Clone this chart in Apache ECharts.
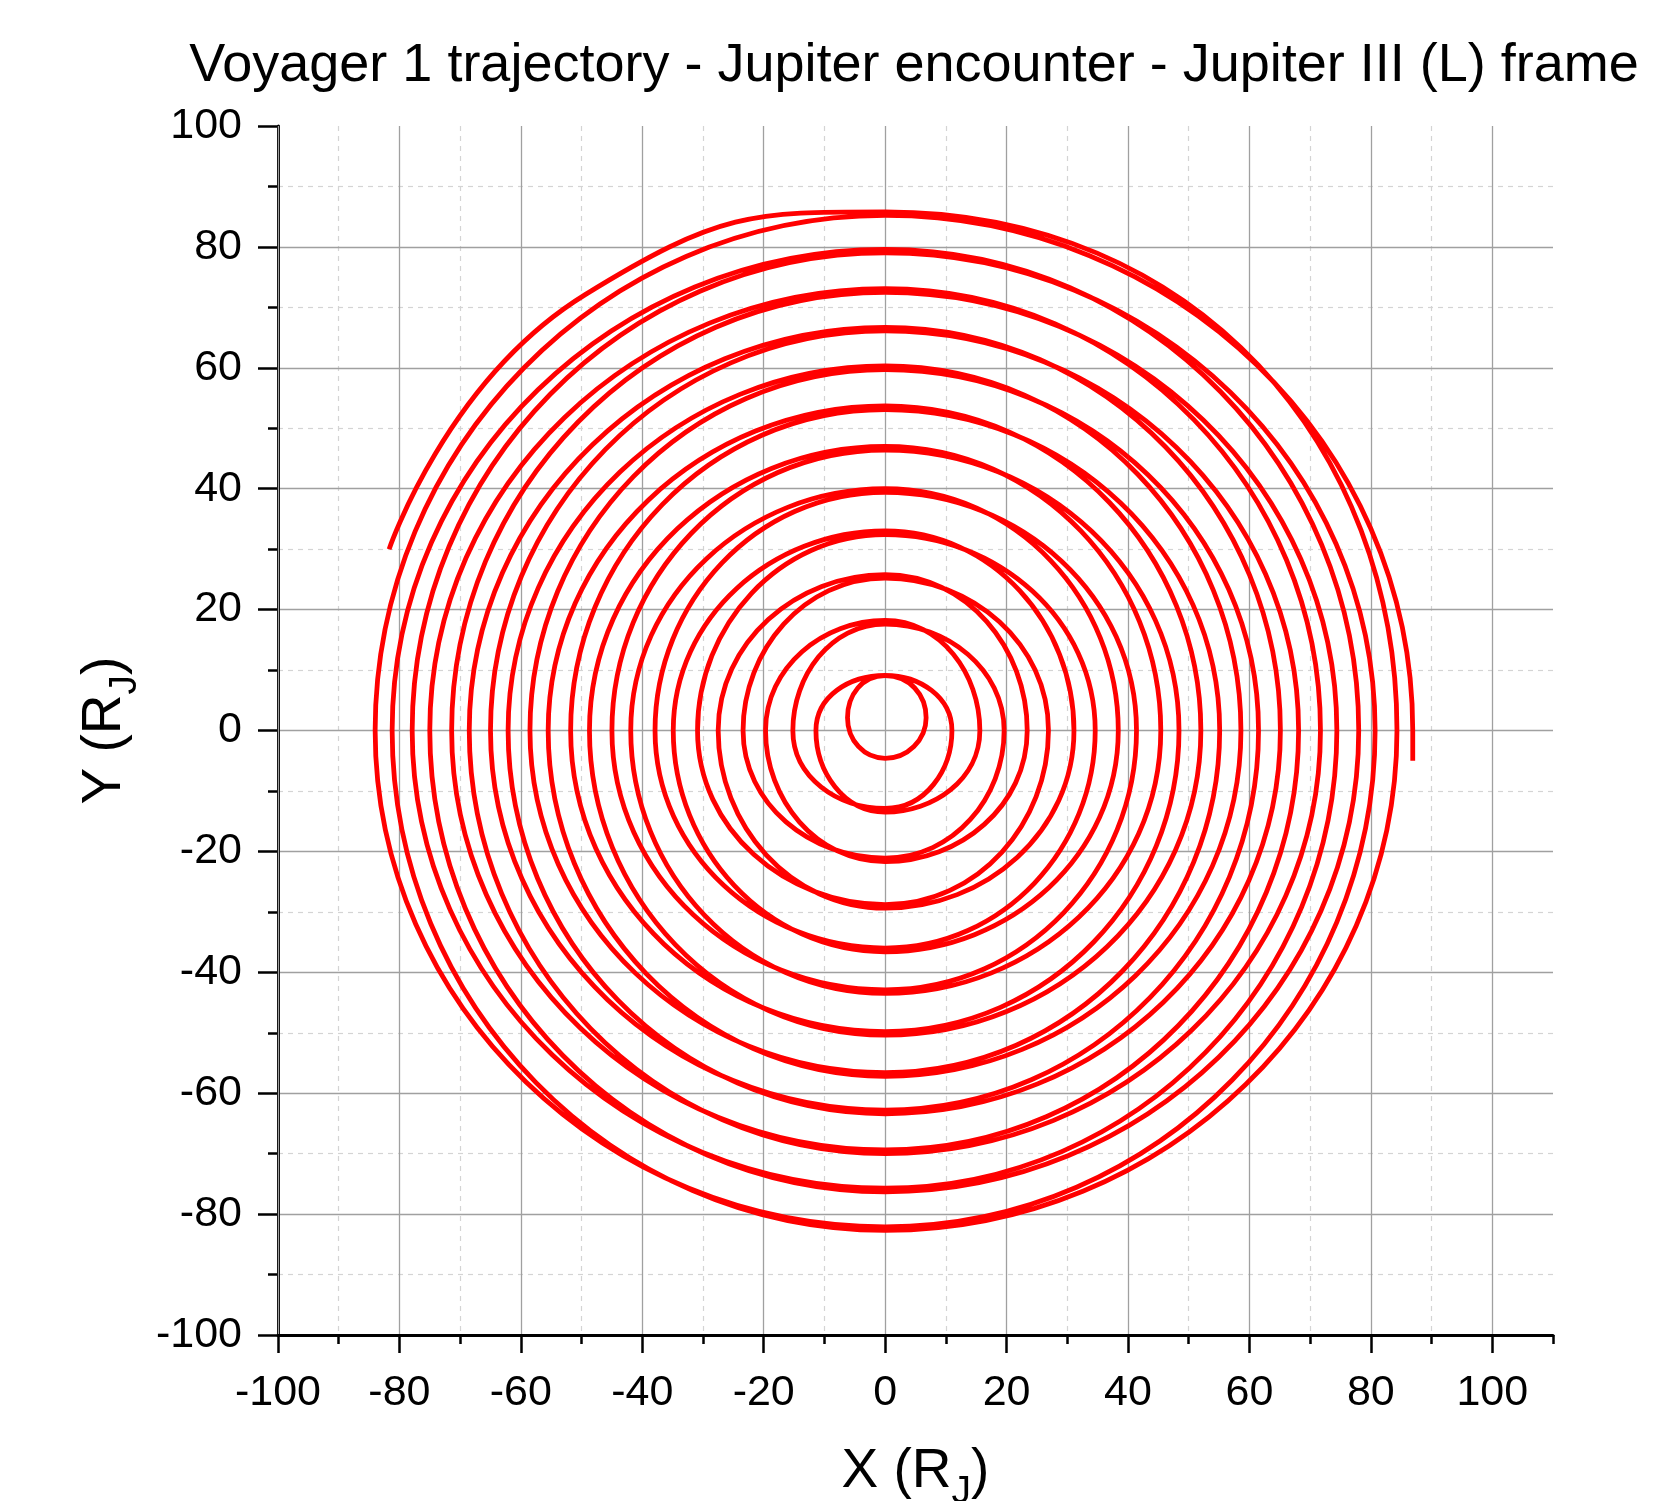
<!DOCTYPE html>
<html>
<head>
<meta charset="utf-8">
<title>Voyager 1 trajectory - Jupiter encounter</title>
<script src="https://cdn.jsdelivr.net/npm/echarts@6/dist/echarts.min.js"></script>
<style>
  html, body { margin: 0; padding: 0; background: #fff; }
  #main { width: 1669px; height: 1501px; }
</style>
</head>
<body>
<div id="main"></div>
<script>
// Track crossings, in Jupiter radii.
// Inbound leg spirals in clockwise, outbound leg spirals out clockwise;
// both legs nearly overlap at top and bottom, and alternate left and right.
var startPoint = [-81.7, 30.0];
var firstArc = [[-49.4, 72.1]];
var inTopY = [85.8, 79.6, 73.1, 66.7, 60.3, 53.7, 47.0, 40.0, 33.0, 25.8, 18.2];
var outTopY = [85.2, 79.0, 72.5, 66.1, 59.7, 53.1, 46.4, 39.4, 32.4, 25.2, 17.6];
var inBottomY = [-82.7, -76.3, -70.0, -63.4, -57.2, -50.4, -43.5, -36.6, -29.4, -21.7, -13.5];
var outBottomY = [-82.1, -75.7, -69.4, -62.8, -56.6, -49.8, -42.9, -36.0, -28.8, -21.1, -12.9];
var inRightX = [84.3, 78.0, 71.7, 65.1, 58.6, 52.0, 45.4, 38.4, 31.1, 23.4, 15.6];
var inLeftX = [-81.2, -75.0, -68.5, -62.1, -55.5, -48.7, -41.9, -34.9, -27.5, -19.7, -11.4];
// closest approach loop: top, right, bottom, left
var loopPoints = [[0, 9.1], [6.75, 2.1], [0, -4.6], [-6.2, 2.1], [0, 9.1]];
// outbound rings listed from the inside out
var outRightX = [11.0, 19.6, 26.9, 34.6, 41.4, 48.4, 55.1, 61.5, 68.1, 74.4, 80.7];
var outLeftX = [-15.2, -23.4, -30.9, -37.9, -45.0, -51.8, -58.5, -65.0, -71.4, -77.9, -84.0];
var endPoints = [[86.9, 0], [86.9, -5.0]];

var xMajorTicks = [-100, -80, -60, -40, -20, 0, 20, 40, 60, 80, 100];
var xMinorTicks = [-90, -70, -50, -30, -10, 10, 30, 50, 70, 90, 110];

// put the crossings in time order
var trajectory = [startPoint].concat(firstArc);
var n = inTopY.length;
for (var i = 0; i < n; i++) {
  trajectory.push([0, inTopY[i]], [inRightX[i], 0], [0, inBottomY[i]], [inLeftX[i], 0]);
}
trajectory = trajectory.concat(loopPoints);
for (var k = 0; k < n; k++) {
  var j = n - 1 - k;
  trajectory.push([outRightX[k], 0], [0, outBottomY[j]], [outLeftX[k], 0], [0, outTopY[j]]);
}
trajectory = trajectory.concat(endPoints);

var font = 'Liberation Sans, Arial, sans-serif';
var black = '#000';
var nameRich = {
  a: { fontSize: 55, lineHeight: 80, fontFamily: font, color: black },
  b: { fontSize: 39, lineHeight: 43, fontFamily: font, color: black, verticalAlign: 'bottom' }
};
var majorGrid = { color: '#a0a0a0', width: 1.3 };
var minorGrid = { color: '#d4d4d4', width: 1.2, type: [5, 5] };

var chart = echarts.init(document.getElementById('main'), null, { renderer: 'canvas' });
var option = {
  animation: false,
  backgroundColor: '#fff',
  title: {
    text: 'Voyager 1 trajectory - Jupiter encounter - Jupiter III (L) frame',
    left: 914,
    top: 39,
    padding: 0,
    textAlign: 'center',
    textStyle: { fontSize: 54, fontWeight: 'normal', color: black, fontFamily: font }
  },
  grid: { left: 278, right: 116, top: 126, bottom: 166, outerBoundsMode: 'none', containLabel: false },
  xAxis: [{
    type: 'value', min: -100, max: 110, interval: 20, position: 'bottom', z: 3,
    name: '{a|X (R}{b|J}{a|)}', nameLocation: 'middle', nameGap: 97,
    nameTextStyle: { rich: nameRich },
    axisLine: { show: true, onZero: false, lineStyle: { color: black, width: 3 } },
    axisTick: { show: true, length: 18, customValues: xMajorTicks, lineStyle: { color: black, width: 2.5 } },
    axisLabel: { customValues: xMajorTicks, fontSize: 43, margin: 37, color: black, fontFamily: font },
    splitLine: { show: true, lineStyle: majorGrid }
  }, {
    type: 'value', min: -100, max: 110, interval: 10, position: 'bottom', z: 1,
    axisLine: { show: false, onZero: false },
    axisTick: { show: true, length: 9, customValues: xMinorTicks, lineStyle: { color: black, width: 2.5 } },
    axisLabel: { show: false },
    splitLine: { show: true, showMaxLine: false, lineStyle: minorGrid }
  }],
  yAxis: {
    type: 'value', min: -100, max: 100, interval: 20, z: 2,
    name: '{a|Y (R}{b|J}{a|)}', nameLocation: 'middle', nameGap: 132,
    nameTextStyle: { rich: nameRich },
    axisLine: { show: true, onZero: false, lineStyle: { color: black, width: 3 } },
    axisTick: { show: true, length: 20, lineStyle: { color: black, width: 2.5 } },
    minorTick: { show: true, splitNumber: 2, length: 10, lineStyle: { color: black, width: 2.5 } },
    axisLabel: { fontSize: 43, margin: 36, color: black, fontFamily: font },
    splitLine: { show: true, showMaxLine: false, lineStyle: majorGrid },
    minorSplitLine: { show: true, lineStyle: minorGrid }
  },
  series: [{
    type: 'line',
    name: 'Voyager 1',
    data: trajectory,
    smooth: 0.55,
    showSymbol: false,
    z: 10,
    lineStyle: { color: '#ff0000', width: 4.8 }
  }]
};
chart.setOption(option);
</script>
</body>
</html>
